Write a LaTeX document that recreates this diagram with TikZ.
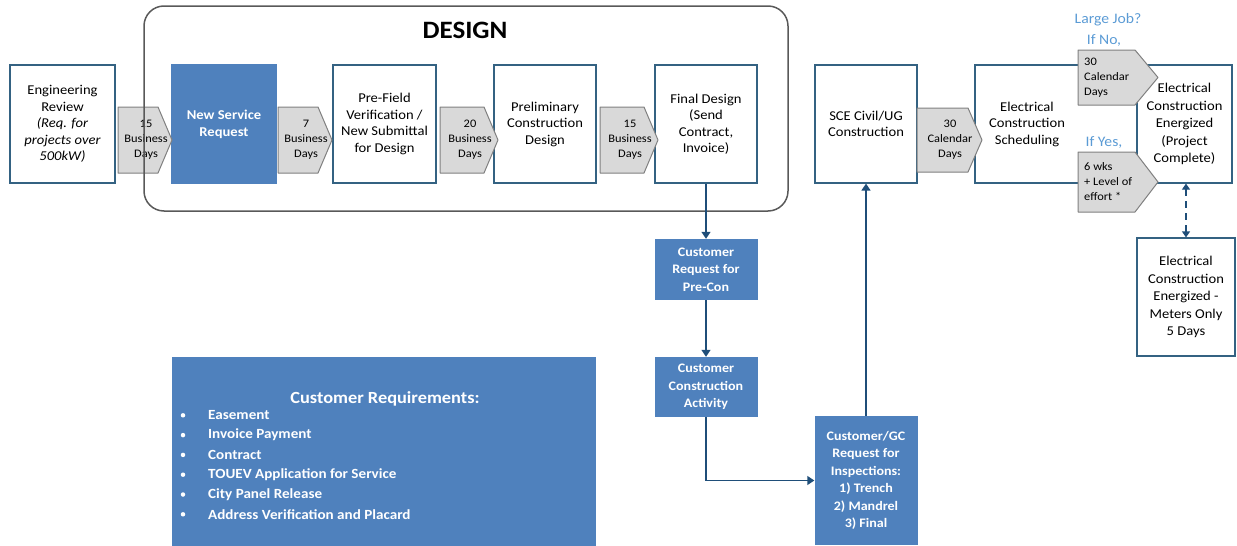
\documentclass[tikz,border=0pt]{standalone}
\usepackage{fontspec}
\setmainfont{Carlito}[FakeStretch=1.08]
\definecolor{boxblue}{RGB}{79,129,189}
\definecolor{edgeblue}{RGB}{52,98,130}
\definecolor{linkblue}{RGB}{31,78,121}
\definecolor{noteblue}{RGB}{91,155,213}
\definecolor{chevgray}{RGB}{217,217,217}
\usetikzlibrary{arrows.meta, positioning}

\begin{document}
\begin{tikzpicture}[x=1pt, y=-1pt,
  stepbox/.style={draw=edgeblue, line width=1.2pt, fill=white, minimum height=118pt, align=center, font=\fontsize{13.5}{16.5}\selectfont},
  custbox/.style={fill=boxblue, text=white, minimum width=103pt, align=center, font=\bfseries\fontsize{13}{17.5}\selectfont},
  chevshape/.style={draw=black!50, fill=chevgray, line width=1pt, line join=round},
  chevtxt/.style={inner sep=0pt, align=center, font=\fontsize{11.5}{15}\selectfont},
  link/.style={draw=linkblue, line width=1.5pt, -{Triangle[width=9pt,length=7pt]}},
  note/.style={text=noteblue, font=\fontsize{14.5}{17}\selectfont}
]
  \useasboundingbox (0,0) rectangle (1237,546);

  % top row
  \node[stepbox, minimum width=105pt] (engrev) at (62.5,124) {Engineering\\Review\\\textit{(Req. for}\\\textit{projects over}\\\textit{500kW)}};
  \node[stepbox, fill=boxblue, draw=boxblue, text=white, font=\bfseries\fontsize{13.5}{17}\selectfont, minimum width=104pt] (newsvc) at (224,124) {New Service\\Request};
  \node[stepbox, minimum width=103pt] (prefield) at (384.5,124) {Pre-Field\\Verification /\\New Submittal\\for Design};
  \node[stepbox, minimum width=102pt] (prelim) at (545,124) {Preliminary\\Construction\\Design};
  \node[stepbox, minimum width=102pt] (finaldes) at (706,124) {Final Design\\(Send\\Contract,\\Invoice)};
  \node[stepbox, minimum width=102pt] (sceciv) at (866,124) {SCE Civil/UG\\Construction};
  \node[stepbox, minimum width=162pt] (sched) at (1056,124) {};
  \node[align=center, font=\fontsize{13.5}{16.5}\selectfont] (schedtxt) at (1027,124) {Electrical\\Construction\\Scheduling};
  \node[stepbox, minimum width=95pt, font=\fontsize{13.5}{17.5}\selectfont] (energized) at (1184.5,124) {Electrical\\Construction\\Energized\\(Project\\Complete)};
  \node[stepbox, minimum width=98pt, font=\fontsize{13.5}{17.5}\selectfont] (metersonly) at (1186,297) {Electrical\\Construction\\Energized -\\Meters Only\\5 Days};

  % durations
  \foreach \cx/\cw/\cname/\cdays in {145/54/days15a/15, 305/54/days7/7, 469/58/days20/20, 629/58/days15b/15} {
    \filldraw[chevshape] (\cx-\cw/2,107) -- ++(\cw-14,0) -- ++(14,33) -- ++(-14,33) -- ++(-\cw+14,0) -- cycle;
    \node[chevtxt] (\cname) at (\cx+1,140) {\cdays\\Business\\Days};
  }
  \filldraw[chevshape] (917,108) -- (968,108) -- (982,140) -- (968,172) -- (917,172) -- cycle;
  \node[chevtxt] (cal30) at (950,140) {30\\Calendar\\Days};
  \filldraw[chevshape] (1078,50) -- (1135,50) -- (1158,77.5) -- (1135,105) -- (1078,105) -- cycle;
  \node[chevtxt, anchor=west, align=left] (ifnodays) at (1084,77.5) {30\\Calendar\\Days};
  \filldraw[chevshape] (1078,152) -- (1135,152) -- (1158,182) -- (1135,212) -- (1078,212) -- cycle;
  \node[chevtxt, anchor=west, align=left] (ifyesdays) at (1084,182) {6 wks\\+ Level of\\effort *};

  \node[note] (largejob) at (1108,20) {Large Job?};
  \node[note] (ifno) at (1104,40) {If No,};
  \node[note] (ifyes) at (1104,142) {If Yes,};

  % design frame
  \node[draw=black!65, line width=1.5pt, rounded corners=20pt, minimum width=644pt, minimum height=205pt] (designframe) at (466,108.5) {};
  \node[font=\bfseries\fontsize{25}{30}\selectfont] (designlbl) at (465,30) {DESIGN};

  % customer side
  \node[custbox, minimum height=61pt] (precon) at (706,269.5) {Customer\\Request for\\Pre-Con};
  \node[custbox, minimum height=60pt] (custact) at (706,387) {Customer\\Construction\\Activity};
  \node[custbox, minimum height=129pt] (gcinsp) at (866,480.5) {Customer/GC\\Request for\\Inspections:\\1) Trench\\2) Mandrel\\3) Final};

  \node[fill=boxblue, minimum width=424pt, minimum height=189pt] (custreq) at (384,451.5) {};
  \node[text=white, font=\bfseries\fontsize{17}{20}\selectfont] (reqtitle) at (385,399) {Customer Requirements:};
  \foreach \req [count=\k] in {Easement, Invoice Payment, Contract, TOUEV Application for Service, City Panel Release, Address Verification and Placard} {
    \node[circle, fill=white, inner sep=0pt, minimum size=4.5pt] (dot\k) at (183,{395.5+19.8*\k}) {};
    \node[anchor=west, text=white, inner sep=0pt, font=\bfseries\fontsize{14}{17}\selectfont] (req\k) at (208,{395.5+19.8*\k}) {\req};
  }

  % connectors
  \draw[link] (finaldes) -- (precon);
  \draw[link] (precon) -- (custact);
  \draw[link] (custact.south) |- (gcinsp.west);
  \draw[link] (gcinsp) -- (sceciv);
  \draw[draw=linkblue, line width=1.2pt, dash pattern=on 7pt off 5pt, {Triangle[width=8pt,length=6pt]}-{Triangle[width=8pt,length=6pt]}] (metersonly.north |- energized.south) -- (metersonly.north);
\end{tikzpicture}
\end{document}
